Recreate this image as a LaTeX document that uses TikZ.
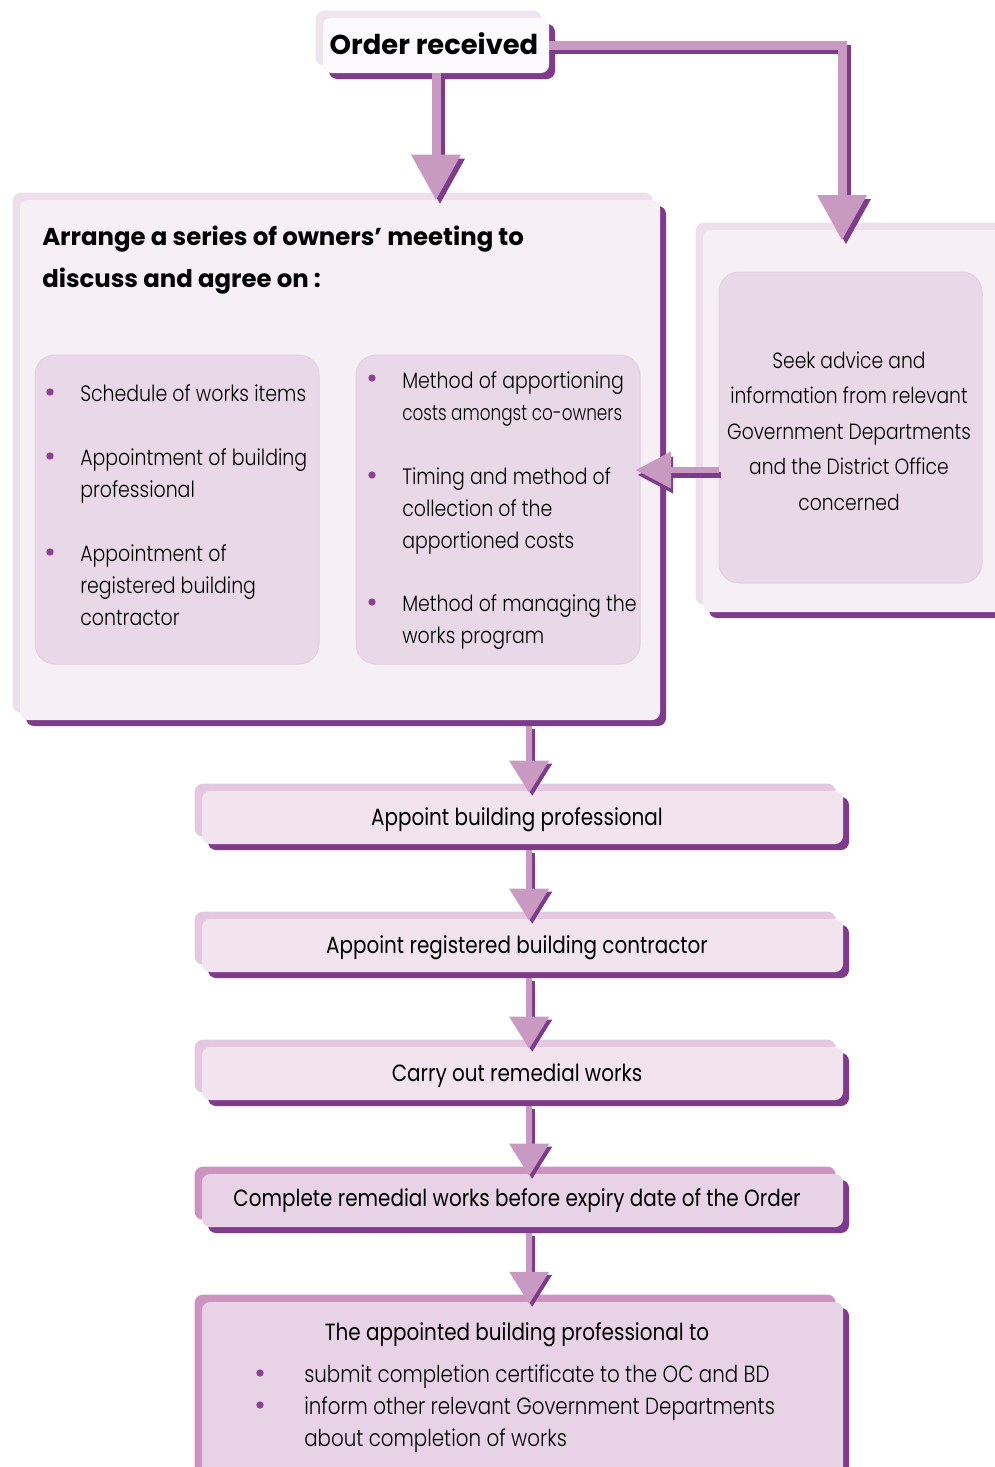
\documentclass[tikz,border=0pt]{standalone}
\usepackage{fontspec}
\setmainfont{Poppins}[FakeStretch=0.85]
\newfontfamily\lightfont{Poppins}[UprightFont={* Light},FakeStretch=0.85]
\newfontfamily\tightfont{Poppins}[UprightFont={* Light},FakeStretch=0.78]
\newfontfamily\headfont{Poppins}
\usetikzlibrary{shadows,arrows.meta,fit}
\definecolor{dark}{HTML}{7E3A8B}
\definecolor{alight}{HTML}{C89AC2}
\definecolor{bulc}{HTML}{8B3F95}
\definecolor{bigfill}{HTML}{F6EFF5}
\definecolor{bigrim}{HTML}{EEDFED}
\definecolor{subfill}{HTML}{E9D9E8}
\definecolor{subedge}{HTML}{E3D0E1}
\definecolor{lowfill}{HTML}{F1E4EF}
\definecolor{lowrim}{HTML}{E4C8DF}
\definecolor{endfill}{HTML}{E8D3E6}
\definecolor{endrim}{HTML}{CC93C0}
\definecolor{ordfill}{HTML}{FDFAFD}
\definecolor{ordrim}{HTML}{EFE5EF}
\tikzset{
  panel/.style 2 args={fill=#1, rounded corners=6pt, inner sep=0pt, draw=none,
    general shadow={shadow xshift=4.5pt,shadow yshift=-4.5pt,fill=dark},
    general shadow={shadow xshift=-5.5pt,shadow yshift=5.5pt,fill=#2}},
  subbox/.style={fill=subfill, draw=subedge, line width=0.75pt, rounded corners=15pt, inner sep=0pt},
  lt/.style={font=\lightfont\fontsize{16.7}{19}\selectfont, inner sep=0pt, anchor=base west},
  ltn/.style={font=\tightfont\fontsize{16.2}{19}\selectfont, inner sep=0pt, anchor=base west},
  ltb/.style={font=\lightfont\fontsize{17.5}{19}\selectfont, inner sep=0pt, anchor=base west},
  ltc/.style={font=\lightfont\fontsize{16.5}{19}\selectfont, inner sep=0pt, anchor=base},
  rt/.style={font=\fontsize{17.6}{19}\selectfont, inner sep=0pt, anchor=base},
  hd/.style={font=\headfont\bfseries\fontsize{18.3}{20}\selectfont, inner sep=0pt, anchor=base west},
  ordtxt/.style={font=\headfont\bfseries\fontsize{20.5}{24}\selectfont, inner sep=0pt, anchor=base},
  bul/.style={circle, fill=bulc, inner sep=0pt, minimum size=5.5pt},
  bigarrow/.style={line width=6.75pt, line join=miter, -{Triangle[width=37.5pt,length=33.75pt,line width=0pt]}},
  smallarrow/.style={line width=4.5pt, -{Triangle[width=30pt,length=24pt,line width=0pt]}},
  sidearrow/.style={line width=4.5pt, -{Triangle[width=27.75pt,length=26.25pt,line width=0pt]}},
}
\newcommand\flowarrow[3]{%
  \draw[#1, draw=dark, transform canvas={shift={(#2)}}] #3;
  \draw[#1, draw=alight] #3;}
\begin{document}
\begin{tikzpicture}[x=0.75pt,y=-0.75pt]
\useasboundingbox (0,0) rectangle (995,1467);
\clip (0,0) rectangle (995,1467);

% panels
\node[panel={ordfill}{ordrim}, fit={(323,18)(549,73)}] (order) {};
\node[panel={bigfill}{bigrim}, fit={(20,200)(660,720)}] (meet) {};
\node[panel={bigfill}{bigrim}, fit={(703,230)(1010,612)}] (advice) {};
\node[panel={lowfill}{lowrim}, fit={(202,791)(843,844)}] (b1) {};
\node[panel={lowfill}{lowrim}, fit={(202,919)(843,972)}] (b2) {};
\node[panel={lowfill}{lowrim}, fit={(202,1047)(843,1100)}] (b3) {};
\node[panel={endfill}{endrim}, fit={(202,1174)(843,1227)}] (b4) {};
\node[panel={endfill}{endrim}, fit={(202,1302)(843,1490)}] (b5) {};

% sub boxes
\node[subbox, fit={(35,355)(319,664)}] (s1) {};
\node[subbox, fit={(356,355)(640,664)}] (s2) {};
\node[subbox, fit={(719,272)(982,583)}] (rsub) {};

% texts
\node[ordtxt] (ordt) at (434,54) {Order received};
\node[hd] (h1) at (42,245) {Arrange a series of owners’ meeting to};
\node[hd] (h2) at (42,287) {discuss and agree on :};

\node[bul] (d1) at (50,392) {};
\node[lt] (t1) at (80,401) {Schedule of works items};
\node[bul] (d2) at (50,456) {};
\node[lt] (t2) at (80,465) {Appointment of building};
\node[lt] (t3) at (80,497) {professional};
\node[bul] (d3) at (50,552) {};
\node[lt] (t4) at (80,561) {Appointment of};
\node[lt] (t5) at (80,593) {registered building};
\node[lt] (t6) at (80,625) {contractor};

\node[bul] (d4) at (372,378) {};
\node[lt] (u1) at (402,388) {Method of apportioning};
\node[ltn] (u2) at (402,420) {costs amongst co-owners};
\node[bul] (d5) at (372,475) {};
\node[lt] (u3) at (402,484) {Timing and method of};
\node[lt] (u4) at (402,516) {collection of the};
\node[lt] (u5) at (402,548) {apportioned costs};
\node[bul] (d6) at (372,602) {};
\node[lt] (u6) at (402,611) {Method of managing the};
\node[lt] (u7) at (402,643) {works program};

\node[ltc] (r1) at (849,368) {Seek advice and};
\node[ltc] (r2) at (849,403) {information from relevant};
\node[ltc] (r3) at (849,439) {Government Departments};
\node[ltc] (r4) at (849,474) {and the District Office};
\node[ltc] (r5) at (849,510) {concerned};

\node[rt] (bt1) at (517,825) {Appoint building professional};
\node[rt] (bt2) at (517,953) {Appoint registered building contractor};
\node[rt] (bt3) at (517,1081) {Carry out remedial works};
\node[rt] (bt4) at (517,1206) {Complete remedial works before expiry date of the Order};
\node[rt] (bt5) at (517,1340) {The appointed building professional to};
\node[bul] (d7) at (260,1373) {};
\node[ltb] (v1) at (304,1382) {submit completion certificate to the OC and BD};
\node[bul] (d8) at (260,1405) {};
\node[ltb] (v2) at (304,1414) {inform other relevant Government Departments};
\node[ltb] (v3) at (304,1446) {about completion of works};

% connectors
\coordinate (rtip) at (842,240);
\coordinate (ltip) at (636,470);
\flowarrow{bigarrow}{3pt,-3pt}{(order.south) -- (order.south |- meet.north)}
\flowarrow{bigarrow}{3pt,-3pt}{(order.east) -| (rtip)}
\flowarrow{sidearrow}{1.5pt,-3.75pt}{(rsub.west |- ltip) -- (ltip)}
\flowarrow{smallarrow}{2.25pt,-2.25pt}{([xshift=5pt,yshift=-4.5pt]meet.south -| b1.north) -- ([xshift=5pt,yshift=-1.5pt]b1.north)}
\flowarrow{smallarrow}{2.25pt,-2.25pt}{([xshift=5pt,yshift=-4.5pt]b1.south) -- ([xshift=5pt,yshift=-1.5pt]b2.north)}
\flowarrow{smallarrow}{2.25pt,-2.25pt}{([xshift=5pt,yshift=-4.5pt]b2.south) -- ([xshift=5pt,yshift=-1.5pt]b3.north)}
\flowarrow{smallarrow}{2.25pt,-2.25pt}{([xshift=5pt,yshift=-4.5pt]b3.south) -- ([xshift=5pt,yshift=-1.5pt]b4.north)}
\flowarrow{smallarrow}{2.25pt,-2.25pt}{([xshift=5pt,yshift=-4.5pt]b4.south) -- ([xshift=5pt,yshift=-1.5pt]b5.north)}
\end{tikzpicture}
\end{document}
